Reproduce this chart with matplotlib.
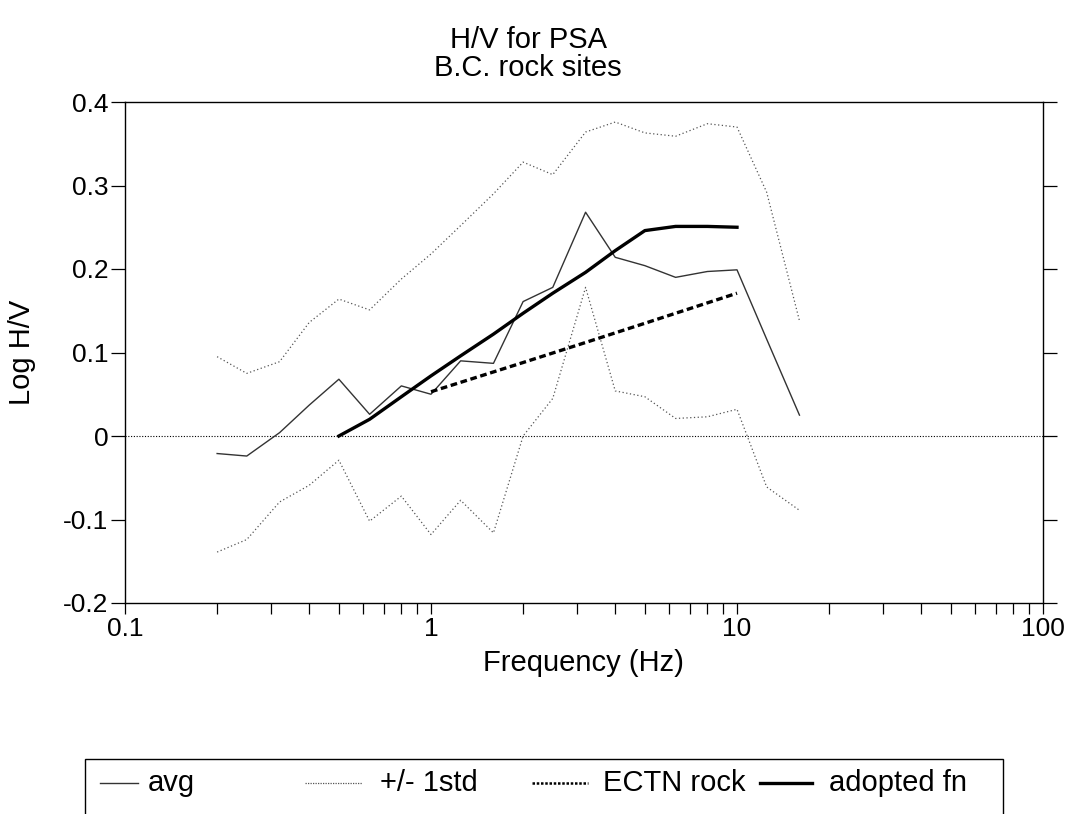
import matplotlib
matplotlib.use("Agg")
import matplotlib.pyplot as plt
from matplotlib.lines import Line2D
from matplotlib.patches import Rectangle

plt.rcParams['font.family'] = ['Liberation Sans', 'DejaVu Sans']

# Frequences (Hz) et valeurs
freq = [0.2, 0.25, 0.32, 0.4, 0.5, 0.63, 0.8, 1.0, 1.25, 1.6,
        2.0, 2.5, 3.2, 4.0, 5.0, 6.3, 8.0, 10.0, 12.5, 16.0]
avg = [-0.021, -0.024, 0.004, 0.037, 0.068, 0.026, 0.060, 0.050, 0.090, 0.087,
       0.161, 0.178, 0.268, 0.214, 0.204, 0.190, 0.197, 0.199, 0.116, 0.025]
std_hi = [0.095, 0.075, 0.089, 0.136, 0.164, 0.151, 0.188, 0.218, 0.252, 0.290,
          0.328, 0.313, 0.364, 0.376, 0.363, 0.359, 0.374, 0.370, 0.292, 0.138]
std_lo = [-0.139, -0.124, -0.079, -0.059, -0.029, -0.102, -0.072, -0.118, -0.077, -0.116,
          0.000, 0.045, 0.178, 0.054, 0.047, 0.021, 0.023, 0.032, -0.061, -0.089]

ectn_freq = [1.0, 2.0, 3.2, 5.0, 10.0]
ectn = [0.053, 0.088, 0.112, 0.135, 0.171]

adopt_freq = [0.5, 0.63, 0.8, 1.0, 1.25, 1.6, 2.0, 2.5, 3.2, 4.0, 5.0, 6.3, 8.0, 10.0]
adopt = [0.0, 0.020, 0.047, 0.072, 0.096, 0.122, 0.147, 0.171, 0.196, 0.222, 0.246, 0.251, 0.251, 0.250]

yticks = [-0.2, -0.1, 0.0, 0.1, 0.2, 0.3, 0.4]
ytick_labels = ['-0.2', '-0.1', '0', '0.1', '0.2', '0.3', '0.4']
xticks = [0.1, 1, 10, 100]
xtick_labels = ['0.1', '1', '10', '100']
legend_labels = ['avg', '+/- 1std', 'ECTN rock', 'adopted fn']

W, H = 1071, 814
fig = plt.figure(figsize=(W/100, H/100), dpi=100)
ax = fig.add_axes([125/W, 1 - 603/H, (1043 - 125)/W, (603 - 102)/H])

# Styles des courbes
sty_avg = dict(color='#333333', linewidth=1.0, linestyle='-')
sty_std = dict(color='#555555', linewidth=0.9, linestyle=(0, (1, 2)))
sty_ectn = dict(color='black', linewidth=2.4, linestyle=(0, (2, 1.1)))
sty_adopt = dict(color='black', linewidth=2.4, linestyle='-')

ax.axhline(0, color='black', linewidth=0.8, linestyle=(0, (1, 1.5)))
ax.plot(freq, avg, **sty_avg)
ax.plot(freq, std_hi, **sty_std)
ax.plot(freq, std_lo, **sty_std)
ax.plot(ectn_freq, ectn, **sty_ectn)
ax.plot(adopt_freq, adopt, **sty_adopt)

ax.set_xscale('log')
ax.set_xlim(0.1, 100)
ax.set_ylim(-0.2, 0.4)
ax.set_xticks(xticks)
ax.set_xticklabels(xtick_labels)
ax.set_yticks(yticks)
ax.set_yticklabels(ytick_labels)

ax.tick_params(axis='x', which='both', direction='out', length=8, width=0.9,
               labelsize=19, pad=2)
ax.tick_params(axis='y', which='both', direction='out', length=10, width=0.9,
               labelsize=19, pad=2, right=True)
for s in ax.spines.values():
    s.set_linewidth(1.0)

fig.text(583/W, 1 - 663/H, 'Frequency (Hz)', ha='center', va='center', fontsize=21)
fig.text(22/W, 1 - 352/H, 'Log H/V', ha='center', va='center', fontsize=21, rotation=90)

fig.text(528/W, 1 - 40/H, 'H/V for PSA', ha='center', va='center', fontsize=21)
fig.text(528/W, 1 - 68/H, 'B.C. rock sites', ha='center', va='center', fontsize=21)

# Legende faite a la main, cadre coupe par le bas de l'image
fig.patches.append(Rectangle((85/W, -0.05), (1003 - 85)/W, 0.05 + (H - 759)/H,
                             transform=fig.transFigure, fill=False,
                             edgecolor='black', linewidth=1.0))
leg_styles = [sty_avg,
              dict(color='#555555', linewidth=0.9, linestyle=(0, (1, 1))),
              dict(color='black', linewidth=1.8, linestyle=(0, (1, 0.7))),
              sty_adopt]
handle_x = [(100, 138), (305, 362), (532, 588), (760, 812)]
text_x = [148, 380, 603, 829]
ly = 1 - 783/H
for lab, st, (x0, x1), tx in zip(legend_labels, leg_styles, handle_x, text_x):
    fig.add_artist(Line2D([x0/W, x1/W], [ly, ly], transform=fig.transFigure, **st))
    fig.text(tx/W, ly, lab, ha='left', va='center', fontsize=21)

fig.savefig('out.png', dpi=100)
